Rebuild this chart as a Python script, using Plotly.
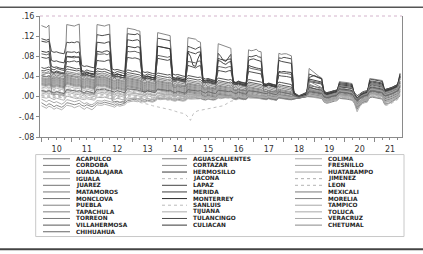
import pandas as pd
import plotly.graph_objects as go

# ---------------- data (monthly, 2010-01 .. 2021-11, values in thousandths) -------------
months = pd.date_range("2010-01-01", periods=143, freq="MS")

mexicali = [141,138,137,142, 6,4,5,3,4,2, 143,142,
            141,140,142,144, 8,6,7,5,6,4, 143,142,
            141,140,142,143, -8,-10,-9,-11,-10,-12, 136,135,
            135,133,131,130, 10,9,11,10,12,11, 127,126,
            125,123,122,121, 20,18,22,19,21,20, 117,116,
            116,114,110,108, 16,14,17,15,16,14, 105,103,
            102,100,98,96, 13,12,14,12,13,11, 93,91,
            92,94,90,89, 11,10,12,10,11,9, 86,84,
            85,85,83,81, 4,0,-2,0,2,3, 56,52,
            47,44,40,37, 4,2,4,6,7,8, 30,29,
            29,28,27,26, 0,-8,-2,2,4,6, 36,35,
            35,34,33,32, 10,12,14,16,18,22, 47]
hermosillo = [115,113,112,114, 90,88,89,87,86,85, 108,107,
              108,107,109,108, 62,60,61,59,58,57, 123,122,
              121,122,123,124, 55,53,54,52,51,50, 125,124,
              124,123,125,122, 50,48,49,47,46,45, 116,115,
              114,113,112,111, 45,43,44,42,41,40, 100,98,
              96,94,97,99, 37,35,36,34,33,32, 86,80,
              72,70,78,84, 30,28,29,27,26,25, 80,79,
              81,82,79,78, 25,24,26,24,23,22, 77,76,
              78,77,76,75, 8,3,1,2,4,5, 45,43,
              40,38,36,35, 6,4,5,7,8,9, 26,25,
              25,24,23,22, 2,-6,-1,3,5,7, 30,31,
              30,29,28,27, 9,10,12,14,16,20, 40]
culiacan = [110,109,108,110, 72,70,71,69,68,67, 89,88,
            88,89,87,89, 50,48,49,47,46,45, 108,107,
            107,106,108,109, 46,44,45,43,42,41, 113,112,
            111,112,113,110, 42,40,41,39,38,37, 100,99,
            98,97,96,95, 38,36,37,35,34,33, 90,88,
            86,85,88,89, 33,31,32,30,29,28, 76,74,
            73,72,74,75, 28,26,27,25,24,23, 72,74,
            75,73,72,70, 23,22,24,22,21,20, 72,70,
            69,68,67,66, 7,2,0,2,4,5, 38,40,
            42,40,38,36, 8,6,7,9,10,11, 28,27,
            27,26,25,24, 4,-4,1,5,7,9, 33,34,
            33,32,31,30, 12,13,15,17,19,23, 45]
monterrey = [90,89,88,90, 60,58,59,57,56,55, 80,79,
             79,80,78,79, 45,43,44,42,41,40, 90,89,
             88,90,91,89, 42,40,41,39,38,37, 100,99,
             98,97,99,98, 38,36,37,35,34,33, 100,99,
             98,97,96,95, 35,33,34,32,31,30, 88,80,
             62,60,75,86, 30,28,29,27,26,25, 72,70,
             66,64,68,70, 26,24,25,23,22,21, 62,60,
             58,57,56,55, 22,21,23,21,20,19, 50,49,
             50,49,48,48, 6,2,0,2,4,5, 35,34,
             32,31,30,29, 7,5,6,8,9,10, 24,23,
             23,22,21,20, 3,-5,0,4,6,8, 28,29,
             28,27,26,25, 11,12,14,16,18,21, 42]
villahermosa = [85,84,83,85, 50,48,49,47,46,45, 79,78,
                78,77,79,78, 42,41,43,41,40,39, 85,84,
                84,85,83,86, 40,38,41,39,38,37, 90,89,
                89,90,88,87, 36,34,37,35,34,33, 82,81,
                80,79,78,80, 32,30,33,31,30,29, 70,69,
                68,67,70,71, 29,27,30,28,27,26, 60,59,
                58,57,59,60, 26,24,27,25,24,23, 58,56,
                55,54,53,52, 23,22,24,22,21,20, 48,47,
                47,46,45,44, 7,3,1,3,5,6, 32,31,
                30,29,28,27, 9,7,8,10,11,12, 22,21,
                21,20,19,18, 5,-3,2,6,8,10, 26,27,
                26,25,24,23, 13,14,16,18,20,23, 40]
merida = [78,77,76,78, 48,46,49,47,46,45, 70,69,
          70,71,69,70, 46,45,47,45,44,43, 72,71,
          71,70,72,73, 44,42,45,43,42,41, 78,77,
          76,77,75,74, 40,38,41,39,38,37, 76,75,
          74,73,72,74, 36,34,37,35,34,33, 62,60,
          58,57,60,62, 32,30,33,31,30,29, 52,51,
          50,49,51,52, 29,27,30,28,27,26, 50,49,
          48,47,46,45, 25,24,26,24,23,22, 42,41,
          41,40,39,38, 8,4,2,4,6,7, 30,29,
          28,27,26,25, 10,8,9,11,12,13, 20,19,
          19,18,17,16, 6,-2,3,7,9,11, 24,25,
          24,23,22,21, 14,15,17,19,21,24, 38]
lapaz = [58,56,57,59, 55,53,56,54,53,52, 60,59,
         58,57,55,56, 52,50,53,51,50,49, 56,55,
         54,55,53,52, 49,47,50,48,47,46, 53,52,
         50,51,49,48, 44,42,45,43,42,41, 47,46,
         45,44,43,44, 39,37,40,38,37,36, 42,41,
         40,39,38,39, 34,32,35,33,32,31, 37,36,
         35,34,33,34, 30,28,31,29,28,27, 34,33,
         32,31,30,29, 26,25,27,25,24,23, 29,28,
         27,26,25,24, 10,3,1,4,7,9, 22,21,
         20,19,18,17, 10,8,9,11,12,13, 20,19,
         19,18,17,16, 8,2,5,9,11,12, 22,23,
         22,21,20,19, 14,15,17,19,21,24, 34]
tulancingo = [52,51,53,54, 50,48,51,49,48,47, 55,54,
              53,52,51,52, 47,45,48,46,45,44, 51,50,
              49,50,48,47, 44,42,45,43,42,41, 48,47,
              46,45,44,43, 39,37,40,38,37,36, 42,41,
              40,39,38,39, 34,32,35,33,32,31, 37,36,
              35,34,33,34, 29,27,30,28,27,26, 32,31,
              30,29,28,29, 25,23,26,24,23,22, 29,28,
              27,26,25,24, 21,20,22,20,19,18, 24,23,
              22,21,20,19, 8,2,0,3,6,8, 18,17,
              16,15,14,13, 6,4,5,7,8,9, 16,15,
              15,14,13,12, 4,-2,1,5,7,8, 18,19,
              18,17,16,15, 10,11,13,15,17,20, 30]
acapulco = [49,47,48,50, 45,43,46,44,43,42, 50,49,
            48,47,46,47, 43,41,44,42,41,40, 47,46,
            45,46,44,43, 40,38,41,39,38,37, 44,43,
            42,41,40,39, 36,34,37,35,34,33, 38,37,
            36,35,34,35, 31,29,32,30,29,28, 33,32,
            31,30,29,30, 26,24,27,25,24,23, 29,28,
            27,26,25,26, 22,20,23,21,20,19, 26,25,
            24,23,22,21, 18,17,19,17,16,15, 21,20,
            19,18,17,16, 6,1,-1,2,5,7, 15,14,
            13,12,11,10, 3,1,2,4,5,6, 13,12,
            12,11,10,9, 1,-6,-2,2,4,5, 15,16,
            15,14,13,12, 6,7,9,11,13,16, 26]
cordoba = [45,44,46,47, 42,40,43,41,40,39, 47,46,
           45,44,43,44, 40,38,41,39,38,37, 44,43,
           42,43,41,40, 37,35,38,36,35,34, 41,40,
           39,38,37,36, 33,31,34,32,31,30, 35,34,
           33,32,31,32, 28,26,29,27,26,25, 30,29,
           28,27,26,27, 23,21,24,22,21,20, 26,25,
           24,23,22,23, 19,17,20,18,17,16, 23,22,
           21,20,19,18, 15,14,16,14,13,12, 18,17,
           16,15,14,13, 5,0,-1,1,4,6, 12,11,
           10,9,8,7, 0,-2,-1,1,2,3, 10,9,
           9,8,7,6, -2,-10,-5,-1,1,2, 12,13,
           12,11,10,9, 3,4,6,8,10,13, 22]
guadalajara = [42,41,40,42, 39,37,40,38,37,36, 44,43,
               42,41,40,41, 37,35,38,36,35,34, 41,40,
               39,40,38,37, 34,32,35,33,32,31, 38,37,
               36,35,34,33, 30,28,31,29,28,27, 32,31,
               30,29,28,29, 25,23,26,24,23,22, 27,26,
               25,24,23,24, 20,18,21,19,18,17, 23,22,
               21,20,19,20, 16,14,17,15,14,13, 20,19,
               18,17,16,15, 12,11,13,11,10,9, 15,14,
               13,12,11,10, 4,0,-2,0,3,5, 10,9,
               8,7,6,5, -2,-4,-3,-1,0,1, 8,7,
               7,6,5,4, -4,-14,-8,-3,-1,0, 10,11,
               10,9,8,7, 0,1,3,5,7,10, 18]
juarez = [41,40,39,41, 37,35,38,36,35,34, 42,41,
          40,39,38,39, 35,33,36,34,33,32, 39,38,
          37,38,36,35, 32,30,33,31,30,29, 36,35,
          34,33,32,31, 28,26,29,27,26,25, 30,29,
          28,27,26,27, 23,21,24,22,21,20, 25,24,
          23,22,21,22, 18,16,19,17,16,15, 21,20,
          19,18,17,18, 14,12,15,13,12,11, 18,17,
          16,15,14,13, 10,9,11,9,8,7, 13,12,
          11,10,9,8, 3,-1,-2,0,2,4, 20,18,
          16,14,12,10, 2,0,1,3,4,5, 14,13,
          13,12,11,10, 0,-8,-3,1,3,4, 16,17,
          16,15,14,13, 5,6,8,10,12,15, 28]
chetumal = [38,37,36,38, 35,33,36,34,33,32, 40,39,
            37,36,35,36, 33,31,34,32,31,30, 37,36,
            35,36,34,33, 30,28,31,29,28,27, 34,33,
            32,31,30,29, 26,24,27,25,24,23, 28,27,
            26,25,24,25, 21,19,22,20,19,18, 23,22,
            21,20,19,20, 16,14,17,15,14,13, 19,18,
            17,16,15,16, 12,10,13,11,10,9, 16,15,
            14,13,12,11, 8,7,9,7,6,5, 11,10,
            9,8,7,6, 2,-1,-2,-1,1,3, 30,28,
            25,22,20,18, 4,2,3,5,6,7, 22,21,
            20,19,18,17, 2,-5,0,3,5,6, 24,25,
            24,23,22,21, 8,9,11,13,15,18, 36]
matamoros = [36,35,34,36, 33,31,34,32,31,30, 38,37,
             35,34,33,34, 31,29,32,30,29,28, 35,34,
             33,34,32,31, 28,26,29,27,26,25, 32,31,
             30,29,28,27, 24,22,25,23,22,21, 26,25,
             24,23,22,23, 19,17,20,18,17,16, 21,20,
             19,18,17,18, 14,12,15,13,12,11, 17,16,
             15,14,13,14, 10,8,11,9,8,7, 14,13,
             12,11,10,9, 6,5,7,5,4,3, 9,8,
             7,6,5,4, 1,-2,-3,-1,0,2, 8,7,
             6,5,4,3, -5,-7,-6,-4,-3,-2, 6,5,
             5,4,3,2, -8,-18,-12,-7,-5,-4, 8,9,
             8,7,6,5, -4,-3,-1,1,3,6, 14]
morelia = [34,33,32,34, 31,29,32,30,29,28, 36,35,
           33,32,31,32, 29,27,30,28,27,26, 33,32,
           31,32,30,29, 26,24,27,25,24,23, 30,29,
           28,27,26,25, 22,20,23,21,20,19, 24,23,
           22,21,20,21, 17,15,18,16,15,14, 19,18,
           17,16,15,16, 12,10,13,11,10,9, 15,14,
           13,12,11,12, 8,6,9,7,6,5, 12,11,
           10,9,8,7, 4,3,5,3,2,1, 7,6,
           5,4,3,2, 0,-2,-2,-1,1,2, 25,23,
           20,18,16,14, 0,-2,-1,1,2,3, 18,17,
           16,15,14,13, -2,-9,-4,-1,1,2, 20,21,
           20,19,18,17, 4,5,7,9,11,14, 30]
puebla = [32,31,30,32, 29,27,30,28,27,26, 34,33,
          31,30,29,30, 27,25,28,26,25,24, 31,30,
          29,30,28,27, 24,22,25,23,22,21, 28,27,
          26,25,24,23, 20,18,21,19,18,17, 22,21,
          20,19,18,19, 15,13,16,14,13,12, 17,16,
          15,14,13,14, 10,8,11,9,8,7, 13,12,
          11,10,9,10, 6,4,7,5,4,3, 10,9,
          8,7,6,5, 2,1,3,1,0,-1, 5,4,
          3,2,1,0, -1,-2,-3,-2,0,1, 14,13,
          12,11,10,9, -1,-3,-2,0,1,2, 12,11,
          11,10,9,8, -3,-12,-6,-2,0,1, 14,15,
          14,13,12,11, 1,2,4,6,8,11, 24]
aguascalientes = [30,29,28,30, 27,25,28,26,25,24, 32,31,
                  29,28,27,28, 25,23,26,24,23,22, 29,28,
                  27,28,26,25, 22,20,23,21,20,19, 26,25,
                  24,23,22,21, 18,16,19,17,16,15, 20,19,
                  18,17,16,17, 13,11,14,12,11,10, 15,14,
                  13,12,11,12, 8,6,9,7,6,5, 11,10,
                  9,8,7,8, 4,2,5,3,2,1, 8,7,
                  6,5,4,3, 1,0,2,0,-1,-2, 4,3,
                  2,1,0,-1, -2,-3,-3,-2,-1,0, 10,9,
                  8,7,6,5, -3,-5,-4,-2,-1,0, 9,8,
                  8,7,6,5, -5,-15,-9,-4,-2,-1, 12,13,
                  12,11,10,9, -2,-1,1,3,5,8, 20]
cortazar = [28,27,26,28, 25,23,26,24,23,22, 30,29,
            27,26,25,26, 23,21,24,22,21,20, 27,26,
            25,26,24,23, 20,18,21,19,18,17, 24,23,
            22,21,20,19, 16,14,17,15,14,13, 18,17,
            16,15,14,15, 11,9,12,10,9,8, 13,12,
            11,10,9,10, 6,4,7,5,4,3, 9,8,
            7,6,5,6, 2,0,3,1,0,-1, 6,5,
            4,3,2,1, -1,-2,0,-2,-3,-4, 2,1,
            0,-1,-2,-3, -3,-3,-2,-2,-1,0, 18,17,
            15,14,12,11, 1,-1,0,2,3,4, 15,14,
            13,12,11,10, -1,-7,-2,1,3,4, 17,18,
            17,16,15,14, 6,7,9,11,13,16, 27]
monclova = [26,25,24,26, 23,21,24,22,21,20, 28,27,
            25,24,23,24, 21,19,22,20,19,18, 25,24,
            23,24,22,21, 18,16,19,17,16,15, 22,21,
            20,19,18,17, 14,12,15,13,12,11, 16,15,
            14,13,12,13, 9,7,10,8,7,6, 11,10,
            9,8,7,8, 4,2,5,3,2,1, 7,6,
            5,4,3,4, 0,-2,1,-1,-2,-3, 4,3,
            2,1,0,-1, -3,-4,-2,-4,-5,-6, 0,-1,
            -2,-3,-4,-5, -4,-3,-2,-1,-1,0, 6,5,
            4,3,2,1, -6,-8,-7,-5,-4,-3, 5,4,
            4,3,2,1, -8,-20,-13,-8,-6,-5, 6,7,
            6,5,4,3, -8,-7,-5,-3,-1,2, 12]
torreon = [24,23,22,24, 21,19,22,20,19,18, 26,25,
           23,22,21,22, 19,17,20,18,17,16, 23,22,
           21,22,20,19, 16,14,17,15,14,13, 20,19,
           18,17,16,15, 12,10,13,11,10,9, 14,13,
           12,11,10,11, 7,5,8,6,5,4, 9,8,
           7,6,5,6, 2,0,3,1,0,-1, 5,4,
           3,2,1,2, -2,-4,-1,-3,-4,-5, 2,1,
           0,-1,-2,-3, -4,-5,-3,-5,-6,-7, -2,-3,
           -4,-5,-6,-6, -5,-3,-2,-1,0,1, 12,11,
           10,9,8,7, -1,-3,-2,0,1,2, 10,9,
           9,8,7,6, -3,-10,-5,-1,1,2, 11,12,
           11,10,9,8, 2,3,5,7,9,12, 22]
fresnillo = [22,21,20,22, 19,17,20,18,17,16, 24,23,
             21,20,19,20, 17,15,18,16,15,14, 21,20,
             19,20,18,17, 14,12,15,13,12,11, 18,17,
             16,15,14,13, 10,8,11,9,8,7, 12,11,
             10,9,8,9, 5,3,6,4,3,2, 7,6,
             5,4,3,4, 0,-2,1,-1,-2,-3, 3,2,
             1,0,-1,0, -3,-5,-2,-4,-5,-6, 0,-1,
             -2,-3,-4,-5, -5,-6,-4,-6,-6,-7, -3,-4,
             -5,-6,-6,-6, -5,-4,-2,-1,0,1, 8,7,
             6,5,4,3, -4,-6,-5,-3,-2,-1, 7,6,
             6,5,4,3, -6,-16,-10,-5,-3,-2, 9,10,
             9,8,7,6, -4,-3,-1,1,3,6, 16]
colima = [19,18,17,19, 16,14,17,15,14,13, 21,20,
          18,17,16,17, 14,12,15,13,12,11, 18,17,
          16,17,15,14, 11,9,12,10,9,8, 15,14,
          13,12,11,10, 7,5,8,6,5,4, 9,8,
          8,7,6,7, 3,1,4,2,1,0, 5,4,
          4,3,2,3, -1,-3,0,-2,-3,-4, 2,1,
          1,0,-1,0, -3,-4,-2,-3,-4,-5, 1,0,
          0,-1,-2,-3, -4,-5,-3,-4,-5,-6, -2,-3,
          -4,-5,-5,-5, -4,-3,-2,-1,0,1, 4,3,
          2,1,0,-1, -8,-10,-9,-7,-6,-5, 3,2,
          2,1,0,-1, -10,-22,-15,-10,-8,-7, 4,5,
          4,3,2,1, -10,-9,-7,-5,-3,0, 10]
leon = [16,15,14,16, 13,11,14,12,11,10, 18,17,
        15,14,13,14, 11,9,12,10,9,8, 15,14,
        13,14,12,11, 9,7,10,8,7,6, 13,12,
        11,10,9,8, 6,4,7,5,4,3, 8,7,
        7,6,5,6, 2,0,3,1,0,-1, 4,3,
        3,2,1,2, 0,-2,1,-1,-2,-3, 3,2,
        2,1,0,1, -1,-3,0,-2,-3,-4, 2,1,
        1,0,-1,-2, -2,-3,-1,-3,-4,-4, 0,-1,
        -2,-3,-3,-3, -3,-2,-1,0,0,1, 5,4,
        3,2,1,0, -7,-9,-8,-6,-5,-4, 2,1,
        1,0,-1,-2, -12,-26,-18,-12,-10,-9, 2,3,
        2,1,0,-1, -14,-13,-11,-8,-5,-2, 6]
toluca = [13,12,11,13, 10,8,11,9,8,7, 15,14,
          12,11,10,11, 9,7,10,8,7,6, 13,12,
          11,12,10,9, 7,5,8,6,5,4, 11,10,
          9,8,7,6, 5,3,6,4,3,2, 7,6,
          6,5,4,5, 3,1,4,2,1,0, 5,4,
          4,3,2,3, 1,-1,2,0,-1,-2, 4,3,
          3,2,1,2, 0,-2,1,-1,-2,-3, 3,2,
          2,1,0,-1, -1,-2,0,-2,-3,-3, 1,0,
          -1,-2,-2,-2, -2,-1,0,0,1,1, 3,2,
          1,0,-1,-2, -9,-11,-10,-8,-7,-6, 0,-1,
          -1,-2,-3,-4, -14,-30,-20,-14,-12,-11, 0,1,
          0,-1,-2,-3, -16,-15,-13,-10,-7,-4, 4]
tampico = [10,9,8,10, 7,5,8,6,5,4, 12,11,
           9,8,7,8, 6,4,7,5,4,3, 10,9,
           8,9,7,6, 5,3,6,4,3,2, 8,7,
           7,6,5,4, 4,2,5,3,2,1, 6,5,
           5,4,3,4, 3,1,4,2,1,0, 5,4,
           4,3,2,3, 2,0,3,1,0,-1, 4,3,
           3,2,1,2, 1,-1,2,0,-1,-2, 3,2,
           2,1,0,0, 0,-1,1,-1,-2,-2, 2,1,
           0,-1,-1,-1, -1,0,1,1,2,2, 16,15,
           13,12,11,10, 3,1,2,4,5,6, 12,11,
           11,10,9,8, 1,-5,0,3,5,6, 14,15,
           14,13,12,11, 4,5,7,9,11,14, 26]
veracruz = [7,6,5,7, 4,2,5,3,2,1, 9,8,
            6,5,4,5, 3,1,4,2,1,0, 7,6,
            5,6,4,3, 2,0,3,1,0,-1, 5,4,
            4,3,2,1, 1,-1,2,0,-1,-2, 3,2,
            3,2,1,2, 1,-1,2,0,-1,-2, 3,2,
            2,1,0,1, 0,-2,1,-1,-2,-3, 2,1,
            2,1,0,1, 0,-2,1,-1,-2,-2, 2,1,
            1,0,-1,-1, -1,-2,0,-2,-2,-3, 1,0,
            -1,-2,-2,-2, -2,-1,0,0,1,1, 7,6,
            5,4,3,2, -4,-6,-5,-3,-2,-1, 5,4,
            4,3,2,1, -7,-17,-11,-6,-4,-3, 6,7,
            6,5,4,3, -6,-5,-3,-1,1,4, 14]
jimenez = [4,3,2,4, 1,-1,2,0,-1,-2, 6,5,
           3,2,1,2, 0,-2,1,-1,-2,-3, 4,3,
           3,4,2,1, 0,-2,1,-1,-2,-3, 3,2,
           2,1,0,-1, -1,-3,0,-2,-3,-4, 1,0,
           1,0,-1,0, -1,-3,0,-2,-3,-4, 1,0,
           0,-1,-2,-1, -2,-4,-1,-3,-4,-5, 0,-1,
           0,-1,-2,-1, -2,-4,-1,-3,-4,-4, 0,-1,
           -1,-2,-3,-3, -3,-4,-2,-4,-4,-5, -1,-2,
           -3,-4,-4,-4, -3,-2,-1,0,0,1, 2,1,
           0,-1,-2,-3, -10,-12,-11,-9,-8,-7, -1,-2,
           -2,-3,-4,-5, -12,-24,-16,-11,-9,-8, -1,0,
           -1,-2,-3,-4, -18,-17,-15,-12,-9,-6, 2]
sanluis = [2,1,0,2, -1,-3,0,-2,-3,-4, 4,3,
           1,0,-1,0, -2,-4,-1,-3,-4,-5, 2,1,
           1,2,0,-1, -2,-4,-1,-3,-4,-5, 1,0,
           0,-1,-2,-3, -3,-5,-2,-4,-5,-6, -1,-2,
           -1,-2,-3,-2, -3,-5,-2,-4,-5,-6, -1,-2,
           -2,-3,-4,-3, -3,-5,-2,-4,-5,-5, -1,-2,
           -1,-2,-3,-2, -3,-4,-2,-3,-4,-4, 0,-1,
           -1,-2,-3,-3, -3,-4,-2,-3,-4,-4, -1,-2,
           -2,-3,-3,-3, -3,-2,-1,0,0,1, 10,9,
           8,7,6,5, -2,-4,-3,-1,0,1, 8,7,
           7,6,5,4, -5,-12,-7,-3,-1,0, 9,10,
           9,8,7,6, -1,0,2,4,6,9, 19]
tijuana = [-1,-2,-3,-1, -4,-6,-3,-5,-6,-7, 1,0,
           -2,-3,-4,-3, -5,-6,-4,-5,-6,-7, -1,-2,
           -2,-1,-3,-4, -4,-6,-3,-5,-6,-6, -2,-3,
           -3,-4,-4,-5, -4,-6,-3,-5,-5,-6, -2,-3,
           -3,-4,-4,-3, -4,-5,-3,-4,-5,-5, -2,-3,
           -2,-3,-3,-2, -3,-4,-2,-3,-4,-4, -1,-2,
           -1,-2,-2,-1, -2,-3,-1,-2,-3,-3, 0,-1,
           0,-1,-1,-2, -2,-3,-1,-2,-3,-3, 0,-1,
           -1,-2,-2,-2, -2,-1,0,0,1,1, 3,2,
           2,1,0,-1, -6,-8,-7,-5,-4,-3, 2,1,
           1,0,-1,-2, -9,-19,-13,-8,-6,-5, 3,4,
           3,2,1,0, -11,-10,-8,-6,-3,0, 8]
chihuahua = [12,11,10,12, 9,7,10,8,7,6, 14,13,
             13,12,11,12, 10,8,11,9,8,7, 15,14,
             14,15,13,12, 11,9,12,10,9,8, 16,15,
             15,14,13,12, 11,9,12,10,9,8, 15,14,
             14,13,12,13, 10,8,11,9,8,7, 14,13,
             13,12,11,12, 9,7,10,8,7,6, 13,12,
             12,11,10,11, 8,6,9,7,6,5, 12,11,
             11,10,9,8, 7,6,8,6,5,4, 10,9,
             8,7,6,5, 2,0,-1,0,2,3, 10,9,
             9,8,7,6, 0,-2,-1,1,2,3, 9,8,
             8,7,6,5, -2,-8,-4,0,2,3, 10,11,
             10,9,8,7, 1,2,4,6,8,11, 20]
tapachula = [-12,-15,-18,-14, -16,-20,-17,-19,-21,-18, -12,-13,
             -14,-16,-15,-13, -17,-19,-16,-18,-20,-17, -12,-13,
             -13,-11,-12,-14, -15,-17,-14,-16,-15,-13, -8,-7,
             -6,-5,-7,-6, -8,-9,-7,-8,-9,-7, -3,-4,
             -4,-3,-5,-4, -6,-7,-5,-6,-7,-6, -2,-3,
             -3,-2,-4,-3, -5,-6,-4,-5,-6,-5, -1,-2,
             -2,-1,-2,-1, -4,-5,-3,-4,-5,-4, 0,-1,
             -1,0,-1,-2, -3,-4,-2,-3,-4,-4, 0,-1,
             -1,-2,-2,-2, -2,-1,0,0,1,1, 1,0,
             0,-1,-2,-3, -11,-13,-12,-10,-9,-8, -3,-4,
             -4,-5,-6,-7, -13,-25,-17,-12,-10,-9, -2,-1,
             -2,-3,-4,-5, -15,-14,-12,-9,-6,-3, 1]
huatabampo = [-18,-20,-23,-19, -21,-25,-22,-24,-26,-22, -17,-18,
              -19,-22,-20,-18, -22,-25,-21,-24,-26,-22, -16,-17,
              -17,-15,-16,-18, -19,-21,-17,-19,-18,-16, -11,-10,
              -9,-8,-10,-9, -10,-11,-9,-10,-11,-9, -5,-6,
              -6,-5,-7,-6, -8,-9,-7,-8,-9,-8, -4,-5,
              -5,-4,-5,-4, -6,-7,-5,-6,-7,-6, -3,-4,
              -3,-2,-3,-2, -5,-6,-4,-5,-6,-5, -2,-3,
              -3,-2,-3,-4, -5,-6,-4,-5,-6,-6, -2,-3,
              -3,-4,-4,-4, -3,-2,-1,0,0,1, 0,-1,
              -1,-2,-3,-4, -8,-10,-9,-7,-6,-5, -2,-3,
              -3,-4,-5,-6, -11,-22,-15,-10,-8,-7, -1,0,
              -1,-2,-3,-4, -12,-11,-9,-7,-4,-1, 3]
iguala = [-5,-8,-10,-7, -9,-12,-10,-13,-15,-12, -6,-7,
          -8,-10,-9,-7, -11,-14,-12,-15,-16,-13, -8,-9,
          -9,-7,-8,-10, -11,-13,-10,-12,-11,-9, -5,-4,
          -3,-2,-4,-3, -5,-6,-4,-5,-6,-4, 0,-1,
          -1,0,-2,-1, -3,-4,-2,-3,-4,-3, 1,0,
          0,1,-1,0, -2,-3,-1,-2,-3,-2, 2,1,
          1,2,1,2, -1,-2,0,-1,-2,-1, 3,2,
          2,3,2,1, 0,-1,1,0,-1,-1, 3,2,
          2,1,1,1, 0,0,1,1,2,2, 6,5,
          4,3,2,1, -5,-7,-6,-4,-3,-2, 4,3,
          3,2,1,0, -8,-16,-10,-6,-4,-3, 5,6,
          5,4,3,2, -7,-6,-4,-2,0,3, 11]
jacona = [2,1,0,1, -1,-2,0,-1,-2,-3, 1,0,
          0,-1,-2,-1, -2,-3,-1,-2,-3,-4, 0,-1,
          -1,0,-2,-3, -4,-5,-3,-5,-6,-7, -6,-7,
          -8,-9,-10,-11, -12,-14,-15,-16,-18,-19, -20,-21,
          -22,-23,-24,-25, -27,-29,-31,-32,-33,-35, -40,-47,
          -35,-30,-28,-27, -27,-26,-25,-24,-23,-22, -21,-20,
          -18,-15,-12,-9, -8,-6,-5,-4,-3,-3, -2,-2,
          -1,-1,-2,-2, -2,-3,-2,-2,-3,-3, -1,-1,
          -2,-2,-2,-2, -2,-1,0,0,1,1, 2,1,
          1,0,-1,-2, -7,-9,-8,-6,-5,-4, 1,0,
          0,-1,-2,-3, -10,-21,-14,-9,-7,-6, 1,2,
          1,0,-1,-2, -12,-11,-9,-7,-4,-1, 5]

# legend order (row-major, three columns as in the reference)
names = ["ACAPULCO", "AGUASCALIENTES", "COLIMA", "CORDOBA", "CORTAZAR", "FRESNILLO",
         "GUADALAJARA", "HERMOSILLO", "HUATABAMPO", "IGUALA", "JACONA", "JIMENEZ",
         "JUAREZ", "LAPAZ", "LEON", "MATAMOROS", "MERIDA", "MEXICALI",
         "MONCLOVA", "MONTERREY", "MORELIA", "PUEBLA", "SANLUIS", "TAMPICO",
         "TAPACHULA", "TIJUANA", "TOLUCA", "TORREON", "TULANCINGO", "VERACRUZ",
         "VILLAHERMOSA", "CULIACAN", "CHETUMAL", "CHIHUAHUA"]
values = [acapulco, aguascalientes, colima, cordoba, cortazar, fresnillo,
          guadalajara, hermosillo, huatabampo, iguala, jacona, jimenez,
          juarez, lapaz, leon, matamoros, merida, mexicali,
          monclova, monterrey, morelia, puebla, sanluis, tampico,
          tapachula, tijuana, toluca, torreon, tulancingo, veracruz,
          villahermosa, culiacan, chetumal, chihuahua]

y_tickvals = [-0.08, -0.04, 0.0, 0.04, 0.08, 0.12, 0.16]
y_ticktext = ["-.08", "-.04", ".00", ".04", ".08", ".12", ".16"]

# ---------------- styles ----------------
colors = ["#7a7a7a", "#858585", "#ababab", "#767676", "#8a8a8a", "#a6a6a6",
          "#7c7c7c", "#3a3a3a", "#a8a8a8", "#a0a0a0", "#b8b8b8", "#adadad",
          "#727272", "#444444", "#b3b3b3", "#787878", "#3e3e3e", "#7a7a7a",
          "#767676", "#2c2c2c", "#848484", "#828282", "#bcbcbc", "#a6a6a6",
          "#7e7e7e", "#acacac", "#a8a8a8", "#7a7a7a", "#4a4a4a", "#aaaaaa",
          "#585858", "#363636", "#888888", "#666666"]
dashes = {"JACONA": "dot", "SANLUIS": "dot", "JIMENEZ": "dot", "LEON": "dot"}

W, H = 423, 254
ML, MR, MT, MB = 40, 21, 13, 117
PW, PH = W - ML - MR, H - MT - MB
FONT = "DejaVu Sans"


def px(x):
    return (x - ML) / PW


def py(y):
    return (H - MB - y) / PH


fig = go.Figure()
for i, (nm, v) in enumerate(zip(names, values)):
    fig.add_trace(go.Scatter(
        x=months[:len(v)], y=[a / 1000 for a in v], mode="lines", name=nm,
        line=dict(color=colors[i], width=0.9, dash=dashes.get(nm, "solid")),
        showlegend=False, hoverinfo="skip"))

shapes = [
    # top rule of the page and bottom rule
    dict(type="line", xref="paper", yref="paper", x0=px(0), x1=px(W), y0=py(4), y1=py(4),
         line=dict(color="#555555", width=1.5)),
    dict(type="line", xref="paper", yref="paper", x0=px(0), x1=px(W), y0=py(252), y1=py(252),
         line=dict(color="#444444", width=2)),
    # pinkish top border of the plot frame
    dict(type="line", xref="paper", yref="paper", x0=0, x1=1, y0=1, y1=1,
         line=dict(color="#d4b4cc", width=1, dash="dot")),
    # legend box
    dict(type="rect", xref="paper", yref="paper", x0=px(35.7), x1=px(404), y0=py(155), y1=py(239),
         line=dict(color="#c8c8c8", width=1)),
]
annotations = []
col_line = [(43, 70), (162, 187), (295, 322)]
col_text = [75, 192, 327]
row0, rowstep = 159.3, 6.8
for i, nm in enumerate(names):
    c, r = i % 3, i // 3
    yy = row0 + r * rowstep
    shapes.append(dict(type="line", xref="paper", yref="paper",
                       x0=px(col_line[c][0]), x1=px(col_line[c][1]), y0=py(yy), y1=py(yy),
                       line=dict(color=colors[i], width=1, dash=dashes.get(nm, "solid"))))
    annotations.append(dict(xref="paper", yref="paper", x=px(col_text[c]), y=py(yy),
                            text=nm, showarrow=False, xanchor="left", yanchor="middle",
                            borderpad=0,
                            font=dict(family=FONT, size=5.8, color="#1e1e1e", weight="bold")))

fig.update_layout(
    width=W, height=H, margin=dict(l=ML, r=MR, t=MT, b=MB, pad=0),
    paper_bgcolor="white", plot_bgcolor="white",
    font=dict(family=FONT, size=8.5, color="#333333"),
    shapes=shapes, annotations=annotations,
    xaxis=dict(type="date", range=["2009-12-14", "2021-11-24"], dtick="M12", tick0="2010-01-01",
               tickformat="%y", ticklabelmode="period", ticks="outside", ticklen=4, tickcolor="#888",
               showline=True, linecolor="#8a8a8a", linewidth=1, mirror=False, showgrid=False,
               zeroline=False, tickfont=dict(family=FONT, size=8, color="#333"),
               minor=dict(dtick="M3", ticks="outside", ticklen=2, tickcolor="#888", showgrid=False)),
    yaxis=dict(range=[-0.08, 0.16], tickvals=y_tickvals, ticktext=y_ticktext,
               ticks="outside", ticklen=3, tickcolor="#888", showline=True, linecolor="#8a8a8a",
               linewidth=1, mirror=True, showgrid=False, zeroline=False,
               tickfont=dict(family=FONT, size=8, color="#333")),
)

fig.write_html("out.html")
